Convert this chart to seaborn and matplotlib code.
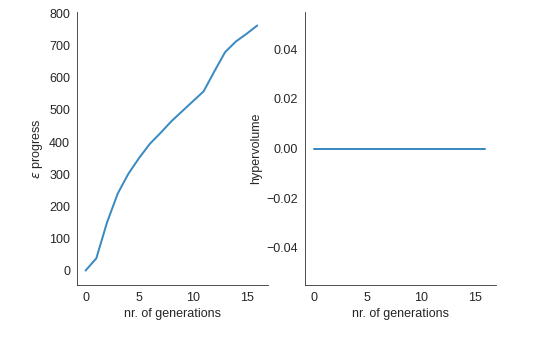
import matplotlib
matplotlib.use("Agg")
import matplotlib.pyplot as plt
import seaborn as sns
import pandas as pd

generations = list(range(17))
epsilon_progress = [0, 38, 150, 240, 302, 351, 395, 429, 465, 496, 527, 558,
                    620, 680, 713, 737, 763]
hypervolume = [0.0] * 17

sns.set_style("white")
plt.rcParams["font.family"] = ["Liberation Sans", "DejaVu Sans"]
plt.rcParams["font.size"] = 12.5

df = pd.DataFrame({"generation": generations,
                   "epsilon": epsilon_progress,
                   "hypervolume": hypervolume})

line_color = "#3a8bc2"
fig = plt.figure(figsize=(546 / 72, 341 / 72), dpi=72)
ax1 = fig.add_axes([77 / 546, 1 - 285 / 341, 191 / 546, 273 / 341])
ax2 = fig.add_axes([305 / 546, 1 - 285 / 341, 191 / 546, 273 / 341])

sns.lineplot(data=df, x="generation", y="epsilon", ax=ax1, color=line_color,
             linewidth=2.0)
sns.lineplot(data=df, x="generation", y="hypervolume", ax=ax2, color=line_color,
             linewidth=2.0)

ax1.set_ylim(-45, 805)
ax1.set_yticks(range(0, 801, 100))
ax1.set_xticks([0, 5, 10, 15])
ax1.set_xlim(-0.8, 17)
ax1.set_xlabel("nr. of generations")
ax1.set_ylabel(r"$\epsilon$ progress")

ax2.set_ylim(-0.055, 0.055)
ax2.set_yticks([-0.04, -0.02, 0.0, 0.02, 0.04])
ax2.set_yticklabels(["\u22120.04", "\u22120.02", "0.00", "0.02", "0.04"])
ax2.set_xticks([0, 5, 10, 15])
ax2.set_xlim(-0.8, 17)
ax2.set_xlabel("nr. of generations")
ax2.set_ylabel("hypervolume")

for ax in (ax1, ax2):
    sns.despine(ax=ax)
    ax.tick_params(labelsize=12.5, colors=".15")

fig.savefig("out.png", dpi=72)
